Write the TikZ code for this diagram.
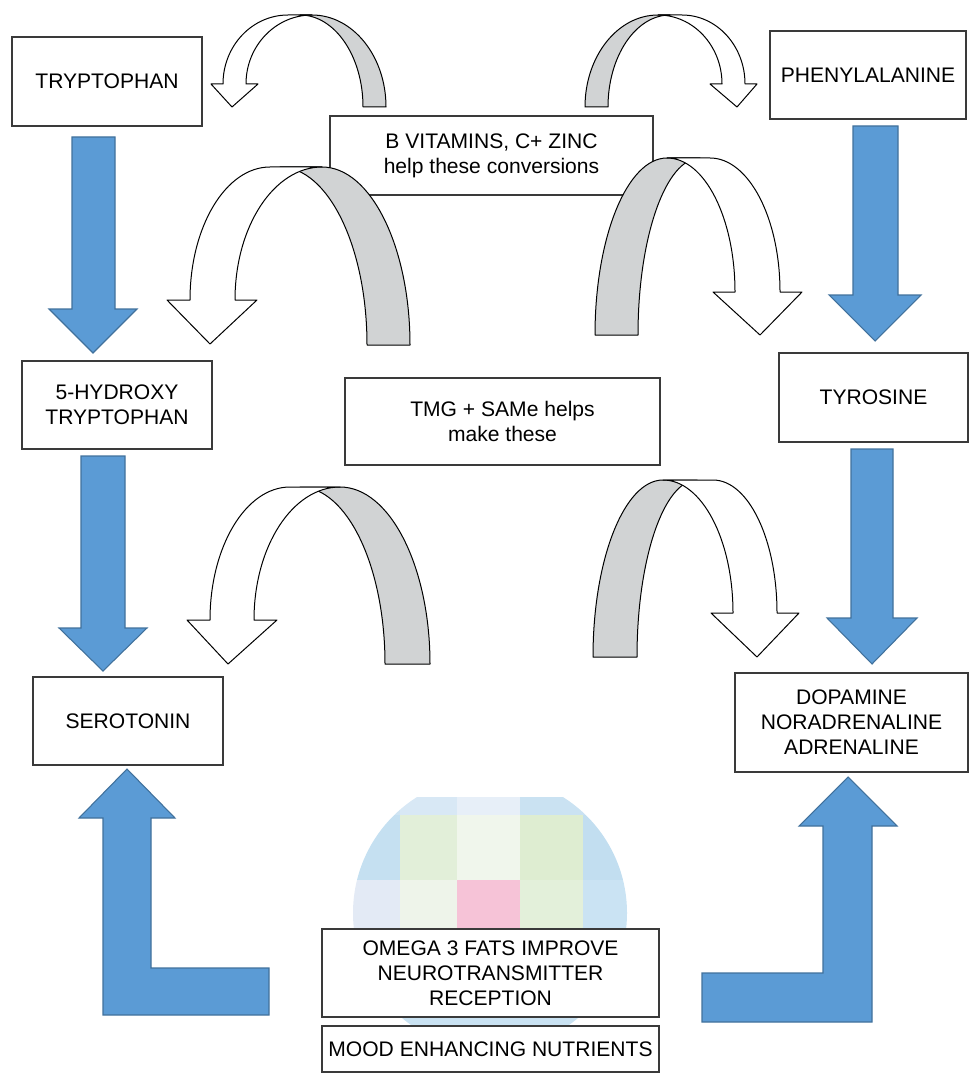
\documentclass[tikz,border=0pt]{standalone}
\usepackage{fontspec}
\setmainfont{Liberation Sans}
\definecolor{blueA}{HTML}{5B9BD5}
\definecolor{blueB}{HTML}{41719C}
\definecolor{grayband}{HTML}{D1D3D4}
\definecolor{boxline}{HTML}{3A3A3A}
\begin{document}
\begin{tikzpicture}[x=0.75pt,y=-0.75pt,
  box/.style={draw=boxline,line width=1pt,fill=white,align=center,inner sep=0pt,
    font=\fontsize{15.8}{18.75}\selectfont,text=black},
  bluearrow/.style={fill=blueA,draw=blueB,line width=0.8pt,line join=miter},
  whiteband/.style={fill=white,draw=black,line width=0.75pt,line join=round},
  grayb/.style={fill=grayband,draw=black,line width=0.75pt,line join=round}]
\useasboundingbox (0,0) rectangle (969,1073);
\clip (0,0) rectangle (969,1073);
% faded background picture
\begin{scope}
\clip (490,913) circle[radius=137];
\clip (340,797) rectangle (640,1029);
\fill[fill={rgb,255:red,207;green,228;blue,243}] (340,797) rectangle (400,815);
\fill[fill={rgb,255:red,216;green,232;blue,245}] (400,797) rectangle (457,815);
\fill[fill={rgb,255:red,231;green,239;blue,248}] (457,797) rectangle (520,815);
\fill[fill={rgb,255:red,202;green,226;blue,242}] (520,797) rectangle (640,815);
\fill[fill={rgb,255:red,197;green,224;blue,241}] (340,815) rectangle (400,880);
\fill[fill={rgb,255:red,226;green,239;blue,217}] (400,815) rectangle (457,880);
\fill[fill={rgb,255:red,240;green,246;blue,236}] (457,815) rectangle (520,880);
\fill[fill={rgb,255:red,222;green,237;blue,209}] (520,815) rectangle (583,880);
\fill[fill={rgb,255:red,194;green,222;blue,240}] (583,815) rectangle (640,880);
\fill[fill={rgb,255:red,227;green,234;blue,245}] (340,880) rectangle (400,929);
\fill[fill={rgb,255:red,238;green,244;blue,234}] (400,880) rectangle (457,929);
\fill[fill={rgb,255:red,246;green,195;blue,215}] (457,880) rectangle (520,929);
\fill[fill={rgb,255:red,227;green,240;blue,218}] (520,880) rectangle (583,929);
\fill[fill={rgb,255:red,202;green,227;blue,243}] (583,880) rectangle (640,929);
\fill[fill={rgb,255:red,201;green,226;blue,242}] (340,929) rectangle (640,1029);
\end{scope}
% boxes
\node[box,minimum width=142.5pt,minimum height=66.75pt] (tryp) at (107,81.5) {TRYPTOPHAN};
\node[box,minimum width=142.5pt,minimum height=66pt] (htp) at (117,405) {5-HYDROXY\\TRYPTOPHAN};
\node[box,minimum width=142.5pt,minimum height=66pt] (sero) at (128,721) {SEROTONIN};
\node[box,minimum width=147pt,minimum height=66pt] (phen) at (868,75) {PHENYLALANINE};
\node[box,minimum width=141.75pt,minimum height=66.75pt] (tyro) at (873.5,397.5) {TYROSINE};
\node[box,minimum width=174.75pt,minimum height=74.25pt] (dopa) at (851.5,722.5) {DOPAMINE\\NORADRENALINE\\ADRENALINE};
\node[box,minimum width=242.25pt,minimum height=59.25pt] (bvit) at (491.5,155.5) {B VITAMINS, C+ ZINC\\help these conversions};
\node[box,minimum width=236.25pt,minimum height=65.25pt] (tmg) at (502.5,421.5) {TMG + SAMe helps\\make these};
\node[box,minimum width=252.75pt,minimum height=66pt] (omega) at (490.5,973) {OMEGA 3 FATS IMPROVE\\NEUROTRANSMITTER\\RECEPTION};
\node[box,minimum width=252.75pt,minimum height=34.5pt] (mood) at (490.5,1049) {MOOD ENHANCING NUTRIENTS};
% curved arrow A (top left)
\draw[grayb] (300,15) -- (312,15) arc[start angle=270,end angle=360,x radius=74,y radius=92] -- (363,107) arc[start angle=0,end angle=-90,x radius=63,y radius=92] -- cycle;
\draw[whiteband] (223,84) arc[start angle=180,end angle=270,x radius=65,y radius=69] -- (312,15) arc[start angle=270,end angle=180,x radius=66,y radius=69] -- (258,84) -- (232,107) -- (211,84) -- cycle;
% curved arrow B (top right)
\draw[grayb] (670,15) -- (658,15) arc[start angle=270,end angle=180,x radius=73,y radius=92] -- (608,107) arc[start angle=180,end angle=270,x radius=62,y radius=92] -- cycle;
\draw[whiteband] (745,84) arc[start angle=0,end angle=-90,x radius=63,y radius=69] -- (658,15) arc[start angle=270,end angle=360,x radius=64,y radius=69] -- (710,84) -- (737,107) -- (757,84) -- cycle;
% curved arrow C (middle left)
\draw[grayb] (280,167) -- (322,167) arc[start angle=270,end angle=360,x radius=88,y radius=178] -- (367,345) arc[start angle=0,end angle=-90,x radius=87,y radius=178] -- cycle;
\draw[whiteband] (190,300) arc[start angle=180,end angle=270,x radius=80,y radius=133] -- (322,167) arc[start angle=270,end angle=180,x radius=87,y radius=133] -- (257,300) -- (210,344) -- (167,300) -- cycle;
% curved arrow D (middle right)
\draw[grayb] (700,158) -- (667,158) arc[start angle=270,end angle=180,x radius=72,y radius=177] -- (638,335) arc[start angle=180,end angle=270,x radius=62,y radius=177] -- cycle;
\draw[whiteband] (780,292) arc[start angle=0,end angle=-90,x radius=70,y radius=134] -- (667,158) arc[start angle=270,end angle=360,x radius=68,y radius=134] -- (713,292) -- (760,335) -- (802,292) -- cycle;
% curved arrow E (lower left)
\draw[grayb] (300,487) -- (340,487) arc[start angle=270,end angle=360,x radius=90,y radius=177] -- (385,664) arc[start angle=0,end angle=-90,x radius=85,y radius=177] -- cycle;
\draw[whiteband] (210,620) arc[start angle=180,end angle=270,x radius=80,y radius=133] -- (340,487) arc[start angle=270,end angle=180,x radius=86,y radius=133] -- (277,620) -- (228,664) -- (187,620) -- cycle;
% curved arrow F (lower right)
\draw[grayb] (697,480) -- (663,480) arc[start angle=270,end angle=180,x radius=70,y radius=177] -- (637,657) arc[start angle=180,end angle=270,x radius=60,y radius=177] -- cycle;
\draw[whiteband] (777,613) arc[start angle=0,end angle=-90,x radius=64,y radius=133] -- (663,480) arc[start angle=270,end angle=360,x radius=70,y radius=133] -- (711,613) -- (757,657) -- (799,613) -- cycle;
% blue block arrows
\draw[bluearrow] (72,137) -- (115,137) -- (115,309) -- (137,309) -- (93,353) -- (49,309) -- (72,309) -- cycle;
\draw[bluearrow] (81,456) -- (125,456) -- (125,628) -- (147,628) -- (103,671) -- (59,628) -- (81,628) -- cycle;
\draw[bluearrow] (853,126) -- (898,126) -- (898,295) -- (921,295) -- (875,341) -- (829,295) -- (853,295) -- cycle;
\draw[bluearrow] (851,449) -- (893,449) -- (893,618) -- (917,618) -- (872,664) -- (827,618) -- (851,618) -- cycle;
\draw[bluearrow] (127,769) -- (175,818) -- (151,818) -- (151,968) -- (269,968) -- (269,1015) -- (103,1015) -- (103,818) -- (79,818) -- cycle;
\draw[bluearrow] (848,777) -- (897,826) -- (872,826) -- (872,1022) -- (702,1022) -- (702,973) -- (823,973) -- (823,826) -- (799,826) -- cycle;
\end{tikzpicture}
\end{document}
